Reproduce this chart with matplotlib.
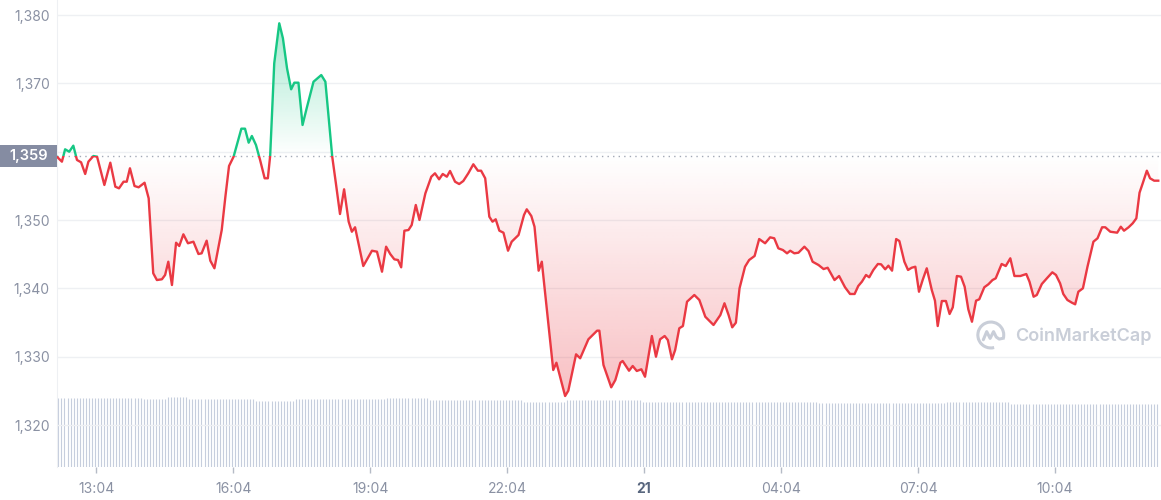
import numpy as np
import matplotlib
matplotlib.use("Agg")
import matplotlib.pyplot as plt
from matplotlib.patches import Rectangle, Arc, Polygon
from matplotlib.transforms import blended_transform_factory

plt.rcParams['font.family'] = ['Inter', 'DejaVu Sans']

# ---- data -------------------------------------------------------------
# hours after 12:04 (day 20)
hours = [0.14, 0.25, 0.32, 0.41, 0.50, 0.58, 0.67, 0.76, 0.83, 0.94, 1.02, 1.18,
         1.31, 1.42, 1.50, 1.60, 1.67, 1.74, 1.84, 1.93, 2.06, 2.15, 2.25, 2.33,
         2.44, 2.51, 2.58, 2.66, 2.75, 2.82, 2.91, 3.01, 3.13, 3.24, 3.31, 3.42,
         3.50, 3.59, 3.75, 3.83, 3.91, 4.01, 4.18, 4.26, 4.34, 4.41, 4.50, 4.59,
         4.69, 4.76, 4.81, 4.90, 5.01, 5.09, 5.18, 5.27, 5.34, 5.43, 5.52, 5.61,
         5.76, 5.93, 6.02, 6.17, 6.25, 6.34, 6.43, 6.53, 6.60, 6.67, 6.85, 7.04,
         7.15, 7.26, 7.35, 7.44, 7.53, 7.61, 7.68, 7.75, 7.84, 7.91, 8.00, 8.08,
         8.21, 8.34, 8.42, 8.51, 8.59, 8.68, 8.75, 8.86, 8.95, 9.04, 9.15, 9.26,
         9.36, 9.43, 9.52, 9.61, 9.68, 9.75, 9.83, 9.92, 10.02, 10.10, 10.25, 10.37,
         10.43, 10.53, 10.60, 10.69, 10.76, 11.01, 11.08, 11.27, 11.34, 11.51, 11.60,
         11.78, 11.97, 12.02, 12.11, 12.28, 12.37, 12.48, 12.53, 12.67, 12.75, 12.84,
         12.94, 13.02, 13.17, 13.26, 13.35, 13.45, 13.52, 13.61, 13.68, 13.77, 13.85,
         13.94, 14.10, 14.21, 14.34, 14.52, 14.67, 14.76, 14.85, 14.93, 15.01, 15.09,
         15.21, 15.30, 15.42, 15.52, 15.65, 15.76, 15.85, 15.94, 16.04, 16.13, 16.20,
         16.29, 16.38, 16.51, 16.60, 16.69, 16.82, 16.93, 17.02, 17.17, 17.27, 17.40,
         17.51, 17.61, 17.69, 17.77, 17.86, 17.93, 18.02, 18.12, 18.19, 18.28, 18.35,
         18.43, 18.52, 18.59, 18.70, 18.78, 18.86, 18.94, 19.02, 19.10, 19.19, 19.30,
         19.37, 19.43, 19.52, 19.61, 19.69, 19.76, 19.85, 19.94, 20.02, 20.10, 20.18,
         20.27, 20.34, 20.45, 20.54, 20.63, 20.70, 20.83, 20.92, 21.02, 21.11, 21.24,
         21.37, 21.44, 21.53, 21.60, 21.71, 21.82, 21.94, 22.02, 22.11, 22.18, 22.27,
         22.37, 22.44, 22.51, 22.61, 22.71, 22.84, 22.93, 23.03, 23.10, 23.21, 23.36,
         23.44, 23.51, 23.61, 23.70, 23.78, 23.85, 23.92, 24.01, 24.08, 24.17, 24.26]

price = [1359.27, 1358.54, 1360.35, 1360.00, 1360.88, 1358.79, 1358.45, 1356.74,
         1358.54, 1359.37, 1359.27, 1355.13, 1358.39, 1354.88, 1354.64, 1355.61,
         1355.61, 1357.57, 1354.98, 1354.79, 1355.46, 1353.18, 1342.21, 1341.22,
         1341.33, 1341.96, 1343.90, 1340.49, 1346.68, 1346.20, 1347.91, 1346.60,
         1346.83, 1345.03, 1345.13, 1346.98, 1344.05, 1342.94, 1348.54, 1353.41,
         1357.91, 1359.27, 1363.37, 1363.37, 1361.32, 1362.30, 1360.98, 1358.79,
         1356.11, 1356.11, 1359.27, 1372.94, 1378.79, 1376.60, 1372.21, 1369.13,
         1370.10, 1370.10, 1363.91, 1366.35, 1370.24, 1371.22, 1370.24, 1359.27,
         1355.38, 1350.88, 1354.50, 1349.76, 1348.29, 1348.94, 1343.27, 1345.51,
         1345.37, 1342.44, 1346.10, 1345.03, 1344.25, 1344.15, 1343.08, 1348.44,
         1348.54, 1349.27, 1352.20, 1350.01, 1353.91, 1356.34, 1356.84, 1355.96,
         1356.74, 1356.34, 1357.18, 1355.61, 1355.27, 1355.71, 1356.84, 1358.16,
         1357.22, 1357.22, 1356.11, 1350.49, 1349.76, 1350.11, 1348.44, 1348.15,
         1345.51, 1346.83, 1347.81, 1350.74, 1351.57, 1350.59, 1349.02, 1342.59,
         1343.90, 1328.05, 1329.12, 1324.25, 1325.02, 1330.35, 1329.77, 1332.55,
         1333.81, 1333.81, 1328.79, 1325.52, 1326.59, 1329.12, 1329.37, 1327.95,
         1328.64, 1327.91, 1328.16, 1327.07, 1333.03, 1330.00, 1332.55, 1333.03,
         1332.44, 1329.62, 1330.98, 1334.16, 1334.49, 1338.05, 1339.03, 1338.30,
         1335.85, 1334.64, 1336.10, 1337.82, 1336.10, 1334.30, 1334.98, 1340.01,
         1343.17, 1344.15, 1344.74, 1347.22, 1346.60, 1347.47, 1347.33, 1345.86,
         1345.61, 1345.13, 1345.51, 1345.13, 1345.22, 1346.10, 1345.47, 1343.90,
         1343.42, 1342.83, 1343.02, 1341.22, 1341.81, 1340.16, 1339.18, 1339.18,
         1340.35, 1340.98, 1341.96, 1341.62, 1342.69, 1343.57, 1343.52, 1342.79,
         1343.32, 1342.59, 1347.22, 1346.93, 1343.90, 1342.69, 1343.02, 1343.17,
         1339.51, 1341.22, 1342.94, 1339.76, 1338.20, 1334.49, 1338.15, 1338.15,
         1336.25, 1337.23, 1341.81, 1341.71, 1340.24, 1336.94, 1335.12, 1338.20,
         1338.40, 1340.16, 1340.60, 1341.22, 1341.47, 1343.57, 1343.27, 1344.40,
         1341.81, 1341.81, 1342.10, 1340.98, 1338.78, 1339.03, 1340.64, 1341.47,
         1342.35, 1341.96, 1340.74, 1339.18, 1338.30, 1337.90, 1337.67, 1339.51,
         1340.01, 1343.17, 1346.83, 1347.33, 1348.94, 1348.94, 1348.29, 1348.15,
         1349.02, 1348.44, 1348.94, 1349.52, 1350.25, 1354.00, 1355.38, 1357.22,
         1356.11, 1355.76, 1355.76]

base_price = 1359.4

# volume bars every 4 minutes, stored as runs of (bar count, volume)
vol_runs = [(28, 13.74), (8, 13.60), (7, 13.94), (22, 13.54), (13, 13.26),
            (30, 13.54), (14, 13.74), (31, 13.40), (14, 13.06), (25, 13.40),
            (58, 13.06), (42, 12.74), (21, 13.06), (49, 12.60)]
vol_start = 0.14
vol_step = 1 / 15

tick_hours = [1, 4, 7, 10, 13, 16, 19, 22]
tick_labels = ['13:04', '16:04', '19:04', '22:04', '21', '04:04', '07:04', '10:04']
y_ticks = [1320, 1330, 1340, 1350, 1360, 1370, 1380]

RED = '#ea3943'
GREEN = '#16c784'
GREY_TXT = '#8a91a3'

t = np.array(hours)
p = np.array(price)

# insert crossing points so both colours meet exactly at the base line
tx, px = [t[0]], [p[0]]
for i in range(1, len(t)):
    a, b = p[i - 1] - base_price, p[i] - base_price
    if a * b < 0:
        f = a / (a - b)
        tx.append(t[i - 1] + f * (t[i] - t[i - 1]))
        px.append(base_price)
    tx.append(t[i])
    px.append(p[i])
tx, px = np.array(tx), np.array(px)

vol = np.concatenate([[v] * n for n, v in vol_runs])
vol_t = vol_start + vol_step * np.arange(len(vol)) + vol_step / 2

# ---- figure -----------------------------------------------------------
fig = plt.figure(figsize=(11.61, 5.0), dpi=100)
ax = fig.add_axes([0.049, 0.066, 0.951, 0.934])
axv = ax.twinx()
ax.set_zorder(axv.get_zorder() + 1)
ax.patch.set_visible(False)

xmin, xmax = 0.14, 24.32
ymin, ymax = 1313.86, 1382.2
ax.set_xlim(xmin, xmax)
ax.set_ylim(ymin, ymax)

# volume
axv.vlines(vol_t, 0, vol, color='#c6cedd', lw=0.8)
axv.set_ylim(0, 93.4)
axv.set_yticks([])
for s in axv.spines.values():
    s.set_visible(False)

# grid
for yv in y_ticks:
    ax.axhline(yv, color='#eef0f3', lw=1, zorder=0)
ax.axhline(base_price, color='#a3a9b6', lw=1, ls=(0, (1, 3)), zorder=1)

# gradient fills
lo = np.minimum(px, base_price)
hi = np.maximum(px, base_price)

red_poly = Polygon(np.column_stack([np.r_[tx, tx[::-1]], np.r_[lo, np.full(len(tx), base_price)]]),
                   closed=True, facecolor='none', edgecolor='none')
green_poly = Polygon(np.column_stack([np.r_[tx, tx[::-1]], np.r_[hi, np.full(len(tx), base_price)]]),
                     closed=True, facecolor='none', edgecolor='none')
ax.add_patch(red_poly)
ax.add_patch(green_poly)

n = 256
ramp = np.linspace(0, 1, n)[:, None]
red_img = np.zeros((n, 2, 4))
red_img[..., :3] = matplotlib.colors.to_rgb(RED)
red_img[..., 3] = (0.32 * (1 - ramp)) * np.ones((1, 2))
im_r = ax.imshow(red_img, extent=[xmin, xmax, min(price), base_price], origin='lower',
                 aspect='auto', zorder=2, interpolation='bilinear')
im_r.set_clip_path(red_poly)

green_img = np.zeros((n, 2, 4))
green_img[..., :3] = matplotlib.colors.to_rgb(GREEN)
green_img[..., 3] = (0.38 * ramp) * np.ones((1, 2))
im_g = ax.imshow(green_img, extent=[xmin, xmax, base_price, max(price)], origin='lower',
                 aspect='auto', zorder=2, interpolation='bilinear')
im_g.set_clip_path(green_poly)
ax.set_xlim(xmin, xmax)
ax.set_ylim(ymin, ymax)

# price line, coloured above / below the base line
ln_g, = ax.plot(tx, px, color=GREEN, lw=1.7, zorder=4, solid_joinstyle='round')
ln_r, = ax.plot(tx, px, color=RED, lw=1.7, zorder=4, solid_joinstyle='round')
clip_up = Rectangle((xmin, base_price), xmax - xmin, ymax - base_price, transform=ax.transData)
clip_dn = Rectangle((xmin, ymin), xmax - xmin, base_price - ymin, transform=ax.transData)
ln_g.set_clip_path(clip_up)
ln_r.set_clip_path(clip_dn)

# axes styling
for name, s in ax.spines.items():
    s.set_visible(name == 'left')
ax.spines['left'].set_color('#eef0f3')

ax.set_yticks(y_ticks)
ax.set_yticklabels(['' if v == 1360 else f'{v:,}' for v in y_ticks])
ax.tick_params(axis='y', length=0, pad=5, labelsize=10, labelcolor=GREY_TXT)

ax.set_xticks(tick_hours)
ax.set_xticklabels(tick_labels)
ax.tick_params(axis='x', length=4, width=1, color='#b5bbc6', pad=7,
               labelsize=10, labelcolor=GREY_TXT)
for lbl in ax.get_xticklabels():
    if lbl.get_text() == '21':
        lbl.set_fontweight('bold')
        lbl.set_color('#58667e')

# base price tag on the left
trans = blended_transform_factory(fig.transFigure, ax.transData)
ax.add_patch(Rectangle((0, base_price - 1.6), 0.049, 3.2, transform=trans,
                       facecolor='#858ca2', edgecolor='none', clip_on=False, zorder=6))
ax.text(0.0245, base_price - 0.1, '1,359', transform=trans, ha='center', va='center',
        color='white', fontsize=10.5, fontweight='semibold', zorder=7, clip_on=False)

# watermark
ax.text(0.868, 0.279, 'CoinMarketCap', transform=ax.transAxes, ha='left', va='center',
        color='#c9ced8', fontsize=13, fontweight='semibold', zorder=3)
lax = fig.add_axes([0.8405, 0.3, 0.0258, 0.06])
lax.set_xlim(-1.1, 1.1)
lax.set_ylim(-1.1, 1.1)
lax.set_aspect('equal')
lax.axis('off')
lax.add_patch(Arc((0, 0), 1.9, 1.9, theta1=-20, theta2=285, color='#c9ced8', lw=2.2))
lax.plot([-0.55, -0.3, -0.05, 0.2, 0.4, 0.62, 0.85],
         [-0.35, 0.25, -0.25, 0.25, -0.15, -0.3, -0.25], color='#c9ced8', lw=2.2,
         solid_joinstyle='round', solid_capstyle='round')

fig.savefig('out.png', dpi=100)
